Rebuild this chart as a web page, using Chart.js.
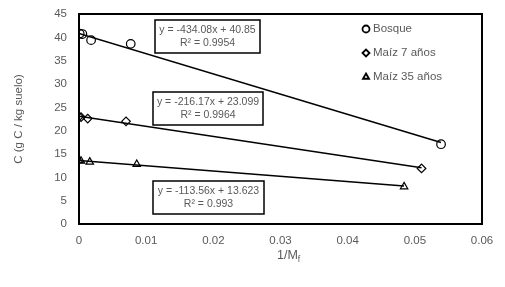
<!DOCTYPE html>
<html>
<head>
<meta charset="utf-8">
<script src="https://cdn.jsdelivr.net/npm/chart.js@4"></script>
<style>
    html, body { margin: 0; padding: 0; background: #fff; }
    #wrap { width: 505px; height: 287px; }
</style>
</head>
<body>
<div id="wrap"><canvas id="chart" width="505" height="287"></canvas></div>
<script>
// ---- data ----
const seriesNames = ['Bosque', 'Maíz 7 años', 'Maíz 35 años'];
const seriesStyles = ['circle', 'rectRot', 'triangle'];

const bosqueX = [0.0001, 0.0005, 0.0018, 0.0077, 0.0539];
const bosqueY = [40.8, 40.7, 39.4, 38.6, 17.1];

const maiz7X = [0.0000, 0.0003, 0.0013, 0.0070, 0.0510];
const maiz7Y = [23.0, 22.9, 22.6, 22.0, 11.9];

const maiz35X = [0.0000, 0.0003, 0.0016, 0.0086, 0.0484];
const maiz35Y = [13.6, 13.5, 13.3, 12.8, 8.0];

// trendline equations (from the labels) and their x range
const trendSlope = [-434.08, -216.17, -113.56];
const trendIntercept = [40.85, 23.099, 13.623];
const trendR2 = ['0.9954', '0.9964', '0.993'];
const trendXMax = [0.0539, 0.0510, 0.0484];

const xTicks = [0, 0.01, 0.02, 0.03, 0.04, 0.05, 0.06];
const yTicks = [0, 5, 10, 15, 20, 25, 30, 35, 40, 45];

const grey = '#595959';
const font = "'Liberation Sans', Arial, sans-serif";

function toPoints(xs, ys) {
    return xs.map((x, i) => ({ x: x, y: ys[i] }));
}

const allX = [bosqueX, maiz7X, maiz35X];
const allY = [bosqueY, maiz7Y, maiz35Y];

const datasets = [];

// trendlines first so markers sit on top
trendSlope.forEach((m, i) => {
    const xs = [0, trendXMax[i]];
    datasets.push({
        type: 'line',
        label: 'trend ' + seriesNames[i],
        data: xs.map(x => ({ x: x, y: m * x + trendIntercept[i] })),
        borderColor: '#000',
        borderWidth: 1.5,
        pointRadius: 0,
        fill: false
    });
});

seriesNames.forEach((name, i) => {
    datasets.push({
        type: 'scatter',
        label: name,
        data: toPoints(allX[i], allY[i]),
        pointStyle: seriesStyles[i],
        pointRadius: 4.3,
        pointBorderWidth: 1.2,
        pointBorderColor: '#000',
        pointBackgroundColor: 'rgba(255,255,255,0)'
    });
});

// equation boxes: [left, top, width, height] in pixels
const eqBoxes = [
    [155, 20, 105, 33],
    [153, 92, 110, 33],
    [153, 181, 111, 33]
];

const extras = {
    id: 'extras',
    afterDraw(chart) {
        const ctx = chart.ctx;
        const area = chart.chartArea;
        ctx.save();

        // plot frame
        ctx.strokeStyle = '#000';
        ctx.lineWidth = 2;
        ctx.strokeRect(area.left, area.top, area.right - area.left, area.bottom - area.top);

        // equation boxes
        eqBoxes.forEach((b, i) => {
            ctx.fillStyle = '#fff';
            ctx.fillRect(b[0], b[1], b[2], b[3]);
            ctx.strokeStyle = '#000';
            ctx.lineWidth = 1.5;
            ctx.strokeRect(b[0], b[1], b[2], b[3]);
            ctx.fillStyle = grey;
            ctx.font = '10.5px ' + font;
            ctx.textAlign = 'center';
            ctx.textBaseline = 'middle';
            const cx = b[0] + b[2] / 2;
            ctx.fillText('y = ' + trendSlope[i] + 'x + ' + trendIntercept[i], cx, b[1] + 10);
            ctx.fillText('R² = ' + trendR2[i], cx, b[1] + 23);
        });

        // legend (hollow markers)
        seriesNames.forEach((name, i) => {
            const y = 29 + i * 24;
            ctx.fillStyle = '#fff';
            ctx.strokeStyle = '#000';
            ctx.lineWidth = 1.8;
            Chart.helpers.drawPoint(ctx, {
                pointStyle: seriesStyles[i],
                radius: 3.5,
                borderWidth: 1.8
            }, 366, y);
            ctx.fillStyle = grey;
            ctx.font = '11.5px ' + font;
            ctx.textAlign = 'left';
            ctx.textBaseline = 'middle';
            ctx.fillText(name, 373, y);
        });

        // x title 1/Mf with subscript
        ctx.fillStyle = grey;
        ctx.font = '12.5px ' + font;
        ctx.textAlign = 'left';
        ctx.textBaseline = 'alphabetic';
        const main = '1/M';
        const w = ctx.measureText(main).width;
        const x0 = 277;
        ctx.fillText(main, x0, 259);
        ctx.font = '8.5px ' + font;
        ctx.fillText('f', x0 + w, 262);

        ctx.restore();
    }
};

new Chart(document.getElementById('chart'), {
    type: 'scatter',
    data: { datasets: datasets },
    options: {
        responsive: false,
        animation: false,
        devicePixelRatio: 1,
        layout: { padding: { left: 0, top: 14, right: 23, bottom: 0 } },
        plugins: {
            legend: { display: false },
            tooltip: { enabled: false }
        },
        scales: {
            x: {
                type: 'linear',
                min: 0,
                max: 0.06,
                afterBuildTicks: s => { s.ticks = xTicks.map(v => ({ value: v })); },
                afterFit: s => { s.height = 63; s.paddingLeft = 0; s.paddingRight = 0; },
                grid: { display: false, drawTicks: false },
                border: { display: false },
                ticks: {
                    color: grey,
                    font: { family: font, size: 11.5 },
                    padding: 10,
                    callback: v => String(Number(v.toFixed(2)))
                }
            },
            y: {
                type: 'linear',
                min: 0,
                max: 45,
                afterBuildTicks: s => { s.ticks = yTicks.map(v => ({ value: v })); },
                afterFit: s => { s.width = 79; s.paddingTop = 0; s.paddingBottom = 0; },
                grid: { display: false, drawTicks: false },
                border: { display: false },
                ticks: {
                    color: grey,
                    font: { family: font, size: 11.5 },
                    padding: 12
                },
                title: {
                    display: true,
                    text: 'C (g C / kg suelo)',
                    color: grey,
                    font: { family: font, size: 11.5 },
                    padding: { top: 12, bottom: 0 }
                }
            }
        }
    },
    plugins: [extras]
});
</script>
</body>
</html>
